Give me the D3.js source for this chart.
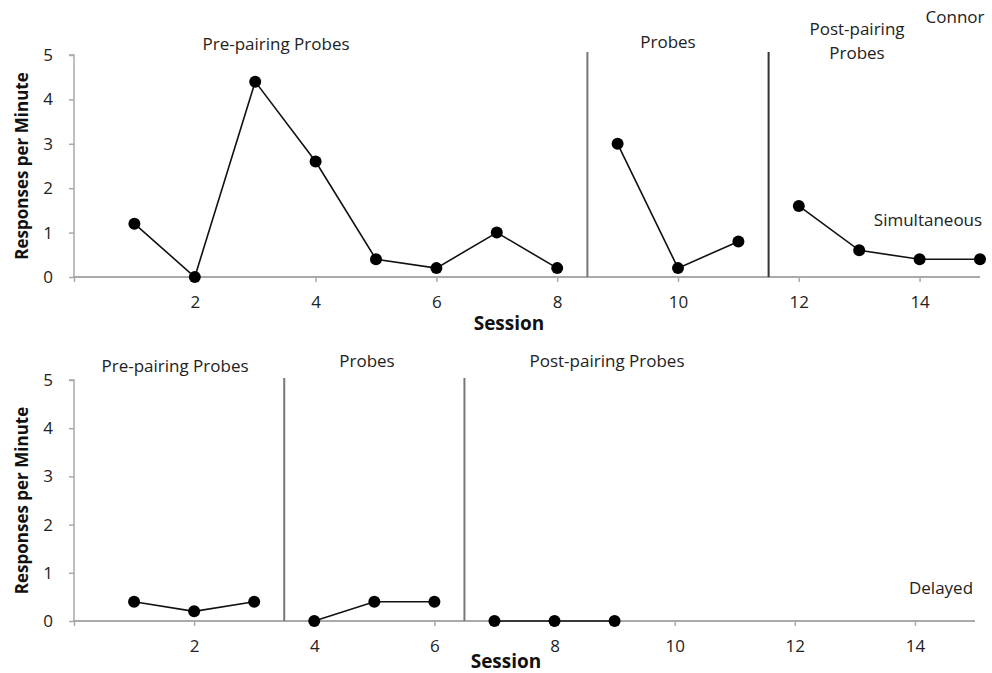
<!DOCTYPE html>
<html><head><meta charset="utf-8">
<script src="https://cdn.jsdelivr.net/npm/d3@7"></script>
<style>body{margin:0;background:#fff}svg{display:block}text{font-family:"Open Sans",sans-serif}</style>
</head><body>
<script>
// Top panel (Simultaneous)
const topSessions = [1,2,3,4,5,6,7,8,9,10,11,12,13,14,15];
const topValues   = [1.2,0,4.4,2.6,0.4,0.2,1.0,0.2,3.0,0.2,0.8,1.6,0.6,0.4,0.4];
const topPhases   = [[1,8],[9,11],[12,15]];
const topPhaseLines = [8.5, 11.5];
// Bottom panel (Delayed)
const botSessions = [1,2,3,4,5,6,7,8,9];
const botValues   = [0.4,0.2,0.4,0,0.4,0.4,0,0,0];
const botPhases   = [[1,3],[4,6],[7,9]];
const botPhaseLines = [3.5, 6.5];
const xTicks = [0,2,4,6,8,10,12,14];
const yTicks = [0,1,2,3,4,5];

const svg = d3.select("body").append("svg").attr("width",992).attr("height",673);

function panel(cfg){
  const x = d3.scaleLinear().domain([0,15]).range([74, cfg.xEnd]);
  const y = d3.scaleLinear().domain([0,5]).range([cfg.y0, cfg.y5]);
  const g = svg.append("g");
  // y axis
  const ya = g.append("g").attr("transform",`translate(${x(0)},0)`)
    .call(d3.axisLeft(y).tickValues(yTicks).tickSize(5).tickPadding(16).tickFormat(d3.format("d")));
  ya.select(".domain").attr("stroke","#aaa").attr("stroke-width",1.5).attr("d",`M-5,${y(5)}H0V${y(0)}`);
  ya.selectAll(".tick line").attr("stroke","#aaa").attr("stroke-width",1.5);
  ya.selectAll(".tick text").attr("font-size",17).attr("fill","#222").attr("font-family","Open Sans");
  // x axis
  const xa = g.append("g").attr("transform",`translate(0,${y(0)})`)
    .call(d3.axisBottom(x).tickValues(xTicks).tickSize(5).tickPadding(14).tickFormat(d=>d===0?"":d));
  xa.select(".domain").attr("stroke","#aaa").attr("stroke-width",2).attr("d",`M${x(0)-1},0H${cfg.xEnd}`);
  xa.selectAll(".tick line").attr("stroke","#aaa").attr("stroke-width",1.5);
  xa.selectAll(".tick text").attr("font-size",17).attr("fill","#222").attr("font-family","Open Sans");
  // phase lines
  g.selectAll(".pl").data(cfg.lines).enter().append("line")
    .attr("x1",d=>x(d)).attr("x2",d=>x(d)).attr("y1",cfg.lineTop).attr("y2",y(0))
    .attr("stroke",(d,i)=>cfg.lineColors[i]).attr("stroke-width",2);
  // data segments by phase
  const line = d3.line().x(d=>x(d[0])).y(d=>y(d[1]));
  const pts = cfg.sessions.map((s,i)=>[s,cfg.values[i]]);
  cfg.phases.forEach(([a,b])=>{
    g.append("path").datum(pts.filter(p=>p[0]>=a&&p[0]<=b))
      .attr("d",line).attr("fill","none").attr("stroke","#111").attr("stroke-width",1.6);
  });
  g.selectAll(".dot").data(pts).enter().append("circle")
    .attr("cx",d=>x(d[0])).attr("cy",d=>y(d[1])).attr("r",6).attr("fill","#000");
  // labels
  cfg.labels.forEach(l=>{
    g.append("text").attr("x",l.x).attr("y",l.y).attr("text-anchor","middle")
      .attr("font-size",17).attr("fill","#222").text(l.t);
  });
  g.append("text").attr("x",cfg.sessionX).attr("y",cfg.sessionY).attr("text-anchor","middle")
    .attr("font-size",19).attr("font-weight","bold").attr("fill","#111").text("Session");
  g.append("text").attr("transform",`translate(28,${(y(0)+y(5))/2}) rotate(-90)`)
    .attr("text-anchor","middle").attr("font-size",17).attr("font-weight","bold").attr("fill","#111")
    .text("Responses per Minute");
}

panel({xEnd:980, y0:277, y5:55, lineTop:52, lines:topPhaseLines, lineColors:["#777","#333"],
  sessions:topSessions, values:topValues, phases:topPhases, sessionX:509, sessionY:330,
  labels:[{x:276,y:50,t:"Pre-pairing Probes"},{x:668,y:48,t:"Probes"},
          {x:857,y:35,t:"Post-pairing"},{x:857,y:59,t:"Probes"},
          {x:955,y:23,t:"Connor"},{x:928,y:226,t:"Simultaneous"}]});

panel({xEnd:975, y0:621, y5:380, lineTop:378, lines:botPhaseLines, lineColors:["#777","#777"],
  sessions:botSessions, values:botValues, phases:botPhases, sessionX:506, sessionY:668,
  labels:[{x:175,y:372,t:"Pre-pairing Probes"},{x:367,y:367,t:"Probes"},
          {x:607,y:367,t:"Post-pairing Probes"},{x:941,y:594,t:"Delayed"}]});
</script>
</body></html>
